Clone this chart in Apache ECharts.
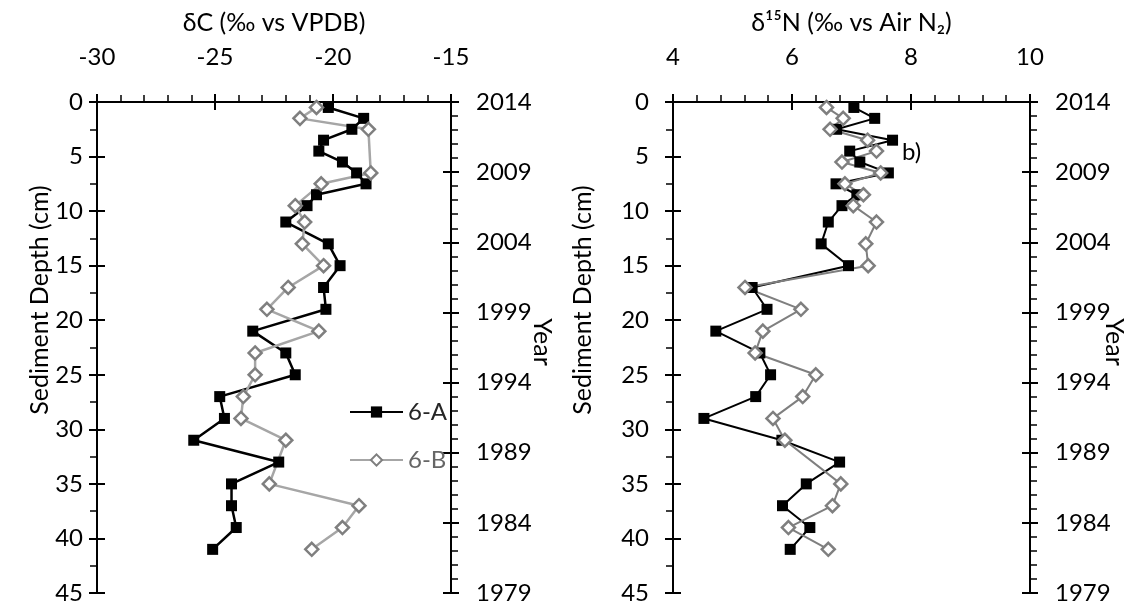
<!DOCTYPE html>
<html>
<head>
<meta charset="utf-8">
<script src="https://cdn.jsdelivr.net/npm/echarts@6/dist/echarts.min.js"></script>
<style>
  html, body { margin: 0; padding: 0; background: #fff; }
  #chart { width: 1128px; height: 603px; }
</style>
</head>
<body>
<div id="chart"></div>
<script>
// Sediment core 6: carbon and nitrogen isotope profiles with depth
const seriesNames = ['6-A', '6-B'];

// δC (‰ vs VPDB)
const carbonDepthA = [0.5, 1.5, 2.5, 3.5, 4.5, 5.5, 6.5, 7.5, 8.5, 9.5, 11, 13, 15, 17, 19, 21, 23, 25, 27, 29, 31, 33, 35, 37, 39, 41];
const carbonA = [-20.2, -18.7, -19.2, -20.4, -20.6, -19.6, -19.0, -18.6, -20.7, -21.1, -22.0, -20.2, -19.7, -20.4, -20.3, -23.4, -22.0, -21.6, -24.8, -24.6, -25.9, -22.3, -24.3, -24.3, -24.1, -25.1];
const carbonDepthB = [0.5, 1.5, 2.5, 6.5, 7.5, 9.5, 11, 13, 15, 17, 19, 21, 23, 25, 27, 29, 31, 35, 37, 39, 41];
const carbonB = [-20.7, -21.4, -18.5, -18.4, -20.5, -21.6, -21.2, -21.3, -20.4, -21.9, -22.8, -20.6, -23.3, -23.3, -23.8, -23.9, -22.0, -22.7, -18.9, -19.6, -20.9];

// δ15N (‰ vs Air N2)
const nitrogenDepthA = [0.5, 1.5, 2.5, 3.5, 4.5, 5.5, 6.5, 7.5, 8.5, 9.5, 11, 13, 15, 17, 19, 21, 23, 25, 27, 29, 31, 33, 35, 37, 39, 41];
const nitrogenA = [7.04, 7.39, 6.75, 7.69, 6.97, 7.14, 7.62, 6.74, 7.09, 6.84, 6.61, 6.49, 6.95, 5.33, 5.58, 4.72, 5.46, 5.64, 5.39, 4.52, 5.83, 6.80, 6.24, 5.84, 6.30, 5.97];
const nitrogenDepthB = [0.5, 1.5, 2.5, 3.5, 4.5, 5.5, 6.5, 7.5, 8.5, 9.5, 11, 13, 15, 17, 19, 21, 23, 25, 27, 29, 31, 35, 37, 39, 41];
const nitrogenB = [6.58, 6.86, 6.64, 7.27, 7.42, 6.84, 7.49, 6.89, 7.20, 7.03, 7.42, 7.24, 7.28, 5.21, 6.15, 5.51, 5.38, 6.40, 6.18, 5.68, 5.88, 6.82, 6.68, 5.94, 6.61];

// Axis ranges and tick labels
const depthRange = [0, 45];
const carbonRange = [-30, -15];
const nitrogenRange = [4, 10];
const yearTop = 2014;
const yearBottom = 1979;
const yearTicks = [2014, 2009, 2004, 1999, 1994, 1989, 1984, 1979];

const FONT = 'Lato';
const FS = 24;      // tick labels and legend
const TITLE_FS = 25; // axis titles
const INK = '#000';

function pairs(values, depths) {
  return values.map((v, i) => [v, depths[i]]);
}

function xAxes(gridIndex, range, interval, title) {
  return [
    {
      type: 'value', gridIndex, position: 'top', min: range[0], max: range[1], interval,
      name: title, nameLocation: 'middle', nameGap: 67, nameMoveOverlap: false,
      nameTextStyle: { fontFamily: FONT, fontSize: TITLE_FS, color: INK },
      axisLine: { show: true, onZero: false, lineStyle: { color: INK, width: 2 } },
      axisTick: { show: true, inside: false, length: 8, lineStyle: { color: INK, width: 2 } },
      minorTick: { show: true, splitNumber: 5, length: 7, lineStyle: { color: INK, width: 1.5 } },
      axisLabel: { margin: 33, fontFamily: FONT, fontSize: FS, color: INK },
      splitLine: { show: false }
    },
    {
      type: 'value', gridIndex, position: 'top', min: range[0], max: range[1], interval,
      axisLine: { show: false, onZero: false },
      axisTick: { show: true, inside: true, length: 8, lineStyle: { color: INK, width: 2 } },
      axisLabel: { show: false }, splitLine: { show: false }
    }
  ];
}

function yAxes(gridIndex, depthMargin) {
  const span = yearTop - yearBottom;
  return [
    {
      type: 'value', gridIndex, position: 'left', inverse: true,
      min: depthRange[0], max: depthRange[1], interval: 5,
      axisLine: { show: true, onZero: false, lineStyle: { color: INK, width: 2 } },
      axisTick: { show: true, inside: false, length: 8, lineStyle: { color: INK, width: 2 } },
      minorTick: { show: true, splitNumber: 2, length: 7, lineStyle: { color: INK, width: 1.5 } },
      axisLabel: { margin: depthMargin, fontFamily: FONT, fontSize: FS, color: INK },
      splitLine: { show: false }
    },
    {
      type: 'value', gridIndex, position: 'left', inverse: true,
      min: depthRange[0], max: depthRange[1], interval: 5,
      axisLine: { show: false, onZero: false },
      axisTick: { show: true, inside: true, length: 8, lineStyle: { color: INK, width: 2 } },
      axisLabel: { show: false }, splitLine: { show: false }
    },
    {
      // years counted down from the core top
      type: 'value', gridIndex, position: 'right', inverse: true,
      min: 0, max: span, interval: 5,
      axisLine: { show: true, onZero: false, lineStyle: { color: INK, width: 2 } },
      axisTick: { show: true, inside: false, length: 8, lineStyle: { color: INK, width: 2 } },
      minorTick: { show: true, splitNumber: 5, length: 7, lineStyle: { color: INK, width: 1.5 } },
      axisLabel: {
        margin: 25, fontFamily: FONT, fontSize: FS, color: INK,
        formatter: v => String(yearTicks[Math.round(v / 5)])
      },
      splitLine: { show: false }
    },
    {
      type: 'value', gridIndex, position: 'right', inverse: true,
      min: 0, max: span, interval: 5,
      axisLine: { show: false, onZero: false },
      axisTick: { show: true, inside: true, length: 8, lineStyle: { color: INK, width: 2 } },
      axisLabel: { show: false }, splitLine: { show: false }
    }
  ];
}

function seriesA(xi, yi, data, lw) {
  return {
    name: seriesNames[0], type: 'line', xAxisIndex: xi, yAxisIndex: yi, data,
    symbol: 'rect', symbolSize: 11, showAllSymbol: true,
    itemStyle: { color: '#000' },
    lineStyle: { color: '#000', width: lw },
    emphasis: { disabled: true }, animation: false
  };
}

function seriesB(xi, yi, data, lineColor, lw) {
  return {
    name: seriesNames[1], type: 'line', xAxisIndex: xi, yAxisIndex: yi, data,
    symbol: 'diamond', symbolSize: 13, showAllSymbol: true,
    itemStyle: { color: '#fff', borderColor: '#7f7f7f', borderWidth: 2.5 },
    lineStyle: { color: lineColor, width: lw },
    emphasis: { disabled: true }, animation: false
  };
}

// rotated axis title centred at (cx, cy)
function sideTitle(text, cx, cy, rotation) {
  return {
    type: 'text', x: cx, y: cy, rotation,
    style: {
      text, fontFamily: FONT, fontSize: TITLE_FS, fill: INK,
      align: 'center', verticalAlign: 'middle'
    }
  };
}

const option = {
  backgroundColor: '#fff',
  animation: false,
  textStyle: { fontFamily: FONT },
  grid: [
    { left: 97, top: 102, width: 354, height: 491, containLabel: false, outerBoundsMode: 'none' },
    { left: 673, top: 102, width: 357, height: 491, containLabel: false, outerBoundsMode: 'none' }
  ],
  xAxis: [
    ...xAxes(0, carbonRange, 5, 'δC (‰ vs VPDB)'),
    ...xAxes(1, nitrogenRange, 2, 'δ¹⁵N (‰ vs Air N₂)')
  ],
  yAxis: [
    ...yAxes(0, 14),
    ...yAxes(1, 24)
  ],
  legend: {
    orient: 'vertical', left: 344, top: 395, itemGap: 24,
    itemWidth: 53, itemHeight: 14,
    textStyle: { fontFamily: FONT, fontSize: FS, color: '#262626' },
    data: [
      { name: seriesNames[0], textStyle: { color: '#262626' } },
      { name: seriesNames[1], textStyle: { color: '#666666' } }
    ],
    selectedMode: false
  },
  graphic: [
    sideTitle('Sediment Depth (cm)', 40, 300, Math.PI / 2),
    sideTitle('Sediment Depth (cm)', 583, 300, Math.PI / 2),
    sideTitle('Year', 542, 342, -Math.PI / 2),
    sideTitle('Year', 1114, 342, -Math.PI / 2),
    { type: 'text', left: 902, top: 140, style: { text: 'b)', fontFamily: FONT, fontSize: FS, fill: INK } }
  ],
  series: [
    seriesA(0, 0, pairs(carbonA, carbonDepthA), 2.5),
    seriesB(0, 0, pairs(carbonB, carbonDepthB), '#a6a6a6', 2.5),
    seriesA(2, 4, pairs(nitrogenA, nitrogenDepthA), 2),
    seriesB(2, 4, pairs(nitrogenB, nitrogenDepthB), '#7f7f7f', 2)
  ]
};

const chart = echarts.init(document.getElementById('chart'), null, { renderer: 'canvas' });
chart.setOption(option);
</script>
</body>
</html>
